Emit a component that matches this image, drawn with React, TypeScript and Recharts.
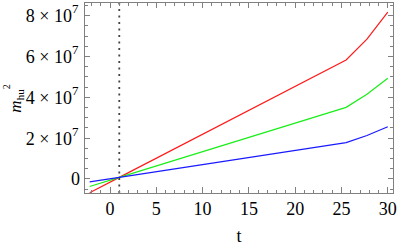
import { Line, LineChart, ReferenceLine, XAxis, YAxis } from 'recharts';

const tPoints = [-2.2, 1, 25.5, 27.75, 30];
const redValues = [-0.67e7, 0.08e7, 5.83e7, 6.85e7, 8.17e7];
const greenValues = [-0.37e7, 0.08e7, 3.51e7, 4.15e7, 4.94e7];
const blueValues = [-0.14e7, 0.08e7, 1.78e7, 2.13e7, 2.56e7];

const xMajorTicks = [0, 5, 10, 15, 20, 25, 30];
const xMinorTicks = [-2, -1, 1, 2, 3, 4, 6, 7, 8, 9, 11, 12, 13, 14, 16, 17, 18, 19, 21, 22, 23, 24, 26, 27, 28, 29];
const yMajorTicks = [0, 2e7, 4e7, 6e7, 8e7];
const yMinorTicks = [-0.5e7, 0.5e7, 1e7, 1.5e7, 2.5e7, 3e7, 3.5e7, 4.5e7, 5e7, 5.5e7, 6.5e7, 7e7, 7.5e7, 8.5e7];
const markerT = 1;

const X_DOMAIN: [number, number] = [-2.81, 30.67];
const Y_DOMAIN: [number, number] = [-0.686e7, 8.67e7];
const FONT = 'Liberation Serif';
const FRAME = '#808080';
const THIN = 0.01;

const xTicks = [...xMinorTicks, ...xMajorTicks];
const yTicks = [...yMinorTicks, ...yMajorTicks];

const data = tPoints.map((t, i) => ({
  t,
  red: redValues[i],
  green: greenValues[i],
  blue: blueValues[i],
}));

// tick marks point into the plot, like Mathematica's frame
function BottomTick({ x, y, payload }: any) {
  const major = xMajorTicks.includes(payload.value);
  return (
    <g>
      <line x1={x} x2={x} y1={y} y2={y - (major ? 6 : 3.5)} stroke={FRAME} strokeWidth={1} shapeRendering="crispEdges" />
      {major && (
        <text x={x} y={y + 22} textAnchor="middle" fontFamily={FONT} fontSize={18} fill="#000">
          {payload.value}
        </text>
      )}
    </g>
  );
}

function TopTick({ x, y, payload }: any) {
  const major = xMajorTicks.includes(payload.value);
  return <line x1={x} x2={x} y1={y} y2={y + (major ? 6 : 3.5)} stroke={FRAME} strokeWidth={1} shapeRendering="crispEdges" />;
}

function LeftTick({ x, y, payload }: any) {
  const v = payload.value as number;
  const major = yMajorTicks.includes(v);
  return (
    <g>
      <line x1={x} x2={x + (major ? 6 : 3.5)} y1={y} y2={y} stroke={FRAME} strokeWidth={1} shapeRendering="crispEdges" />
      {major && v === 0 && (
        <text x={x - 4} y={y + 6.5} textAnchor="end" fontFamily={FONT} fontSize={18} fill="#000">
          0
        </text>
      )}
      {major && v !== 0 && (
        <text x={x - 5.5} y={y + 6.5} textAnchor="end" fontFamily={FONT} fontSize={18} fill="#000">
          {`${v / 1e7} × 10`}
          <tspan dy={-9} fontSize={13}>7</tspan>
        </text>
      )}
    </g>
  );
}

function RightTick({ x, y, payload }: any) {
  const major = yMajorTicks.includes(payload.value);
  return <line x1={x} x2={x - (major ? 6 : 3.5)} y1={y} y2={y} stroke={FRAME} strokeWidth={1} shapeRendering="crispEdges" />;
}

function TLabel({ viewBox }: any) {
  return (
    <text x={viewBox.x + viewBox.width / 2} y={viewBox.y + 49} textAnchor="middle" fontFamily={FONT} fontSize={18} fill="#000">
      t
    </text>
  );
}

function MLabel({ viewBox }: any) {
  const cx = 21;
  const cy = viewBox.y + viewBox.height / 2 + 1;
  return (
    <text x={cx} y={cy} transform={`rotate(-90, ${cx}, ${cy})`} textAnchor="middle" fontFamily={FONT} fontSize={17} fill="#000">
      <tspan fontStyle="italic">m</tspan>
      <tspan fontSize={11} dy={3}>hu</tspan>
      <tspan fontSize={10} dy={-14}>2</tspan>
    </text>
  );
}

export default function App() {
  return (
    <div style={{ position: 'absolute', left: 0, top: 0 }}>
      <LineChart width={399} height={246} data={data} margin={{ top: 2, right: 5, bottom: 0, left: 0 }}>
        <XAxis
          dataKey="t"
          type="number"
          domain={X_DOMAIN}
          allowDataOverflow
          ticks={xTicks}
          interval={0}
          height={53}
          tickLine={false}
          tickSize={0}
          tickMargin={0}
          axisLine={{ stroke: FRAME, shapeRendering: 'crispEdges' }}
          tick={BottomTick}
          label={<TLabel />}
        />
        <XAxis
          xAxisId="top"
          orientation="top"
          dataKey="t"
          type="number"
          domain={X_DOMAIN}
          allowDataOverflow
          ticks={xTicks}
          interval={0}
          height={THIN}
          tickLine={false}
          tickSize={0}
          tickMargin={0}
          axisLine={{ stroke: FRAME, shapeRendering: 'crispEdges' }}
          tick={TopTick}
        />
        <YAxis
          type="number"
          domain={Y_DOMAIN}
          allowDataOverflow
          ticks={yTicks}
          interval={0}
          width={84}
          tickLine={false}
          tickSize={0}
          tickMargin={0}
          axisLine={{ stroke: FRAME, shapeRendering: 'crispEdges' }}
          tick={LeftTick}
          label={<MLabel />}
        />
        <YAxis
          yAxisId="right"
          orientation="right"
          type="number"
          domain={Y_DOMAIN}
          allowDataOverflow
          ticks={yTicks}
          interval={0}
          width={THIN}
          tickLine={false}
          tickSize={0}
          tickMargin={0}
          axisLine={{ stroke: FRAME, shapeRendering: 'crispEdges' }}
          tick={RightTick}
        />

        <ReferenceLine x={markerT} stroke="#444" strokeWidth={1.8} strokeDasharray="2 4.5" />

        {/* same data on the top/right frame axes so they get ticks; drawn invisibly */}
        <Line xAxisId="top" yAxisId="right" dataKey="red" stroke="none" dot={false} legendType="none" isAnimationActive={false} />

        <Line dataKey="red" stroke="#ff1a1a" strokeWidth={1.2} dot={false} isAnimationActive={false} />
        <Line dataKey="green" stroke="#1aee1a" strokeWidth={1.2} dot={false} isAnimationActive={false} />
        <Line dataKey="blue" stroke="#1a1aff" strokeWidth={1.2} dot={false} isAnimationActive={false} />
      </LineChart>
    </div>
  );
}
